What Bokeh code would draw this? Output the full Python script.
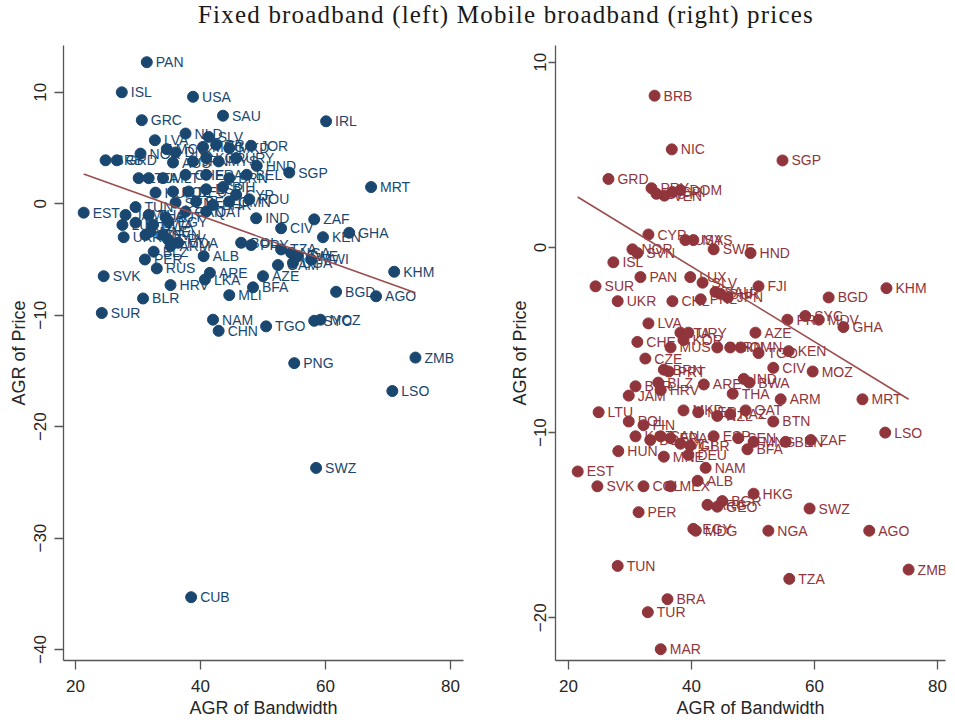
from bokeh.plotting import figure
from bokeh.layouts import column, row
from bokeh.models import Div, Range1d, FixedTicker, ColumnDataSource
from bokeh.core.properties import value
from bokeh.embed import file_html
from bokeh.resources import INLINE

TITLE = "Fixed broadband (left) Mobile broadband (right) prices"
X_LABEL = "AGR of Bandwidth"
Y_LABEL = "AGR of Price"
x_ticks = [20, 40, 60, 80]
fixed_y_ticks = [10, 0, -10, -20, -30, -40]
mobile_y_ticks = [10, 0, -10, -20]

# ---------- Fixed broadband (left) ----------
fixed_code = ["PAN", "ISL", "USA", "SAU", "IRL", "GRC", "LVA", "NLD", "SLV", "JOR",
              "HND", "SGP", "MRT", "BRB", "GRD", "BEL", "IND", "ZAF", "CIV", "GHA",
              "KEN", "KHM", "BGD", "AGO", "SYC", "MOZ", "TGO", "NAM", "CHN", "MLI",
              "BFA", "AZE", "ARE", "LKA", "HRV", "ALB", "RUS", "PER", "SVK", "BLR",
              "SUR", "EST", "PNG", "ZMB", "LSO", "SWZ", "CUB",
              "NOR", "MCO", "DNK", "MNG", "BRA", "MKD", "AUS", "JPN", "KOR", "MYS",
              "URY", "LTU", "ITA", "MLT", "CHE", "FRA", "BRN", "HUN", "POL", "DEU",
              "ESP", "BIH", "CYP", "ROU", "SEN", "BEN", "BHR", "OMN", "TUN", "JAM",
              "THA", "AUT", "CAN", "QAT", "LUX", "PHL", "BWA", "EGY", "UKR", "CZE",
              "SVN", "MNE", "CPV", "MDA", "ARM", "BLZ", "BOL", "PRY", "TZA", "NGA",
              "ZWE", "GAM", "UGA", "MWI"]
fixed_bw = [31.4, 27.4, 38.8, 43.6, 60.1, 30.6, 32.7, 37.6, 41.3, 48.1,
            49.0, 54.2, 67.3, 24.8, 26.6, 47.4, 48.9, 58.2, 52.9, 63.8,
            59.6, 71.0, 61.7, 68.1, 58.2, 59.2, 50.5, 42.0, 42.9, 44.6,
            48.4, 50.0, 41.5, 40.7, 35.2, 40.5, 33.0, 31.1, 24.5, 30.8,
            24.2, 21.3, 55.0, 74.4, 70.7, 58.5, 38.5,
            30.4, 34.6, 36.0, 40.4, 42.5, 44.6, 35.6, 38.8, 40.9, 42.9,
            45.7, 30.1, 31.7, 34.0, 37.6, 40.9, 44.6, 32.8, 35.6, 38.1,
            40.9, 43.6, 45.7, 47.8, 36.0, 39.3, 42.0, 44.6, 29.6, 28.0,
            31.7, 34.4, 37.6, 40.9, 27.5, 29.6, 32.4, 34.9, 27.7, 31.2,
            34.0, 32.0, 34.8, 36.4, 35.2, 32.5, 46.5, 48.1, 52.9, 54.5,
            55.6, 52.4, 54.8, 57.7]
fixed_price = [12.7, 10.0, 9.6, 7.9, 7.4, 7.5, 5.7, 6.3, 6.0, 5.2,
               3.4, 2.8, 1.5, 3.9, 3.9, 2.6, -1.3, -1.4, -2.2, -2.6,
               -3.0, -6.1, -7.9, -8.3, -10.5, -10.4, -11.0, -10.4, -11.4, -8.2,
               -7.5, -6.5, -6.2, -6.8, -7.3, -4.7, -5.8, -5.0, -6.5, -8.5,
               -9.8, -0.8, -14.3, -13.8, -16.8, -23.7, -35.3,
               4.5, 4.9, 4.6, 5.1, 5.3, 5.0, 3.7, 3.8, 4.1, 3.8,
               4.1, 2.3, 2.3, 2.3, 2.6, 2.6, 2.3, 1.0, 1.1, 1.1,
               1.3, 1.5, 0.8, 0.4, 0.1, 0.2, -0.1, 0.2, -0.3, -1.0,
               -1.0, -1.2, -0.7, -0.7, -1.9, -1.7, -1.9, -1.6, -3.0, -2.8,
               -2.8, -2.5, -3.2, -3.5, -3.8, -4.3, -3.5, -3.7, -4.1, -4.4,
               -4.7, -5.5, -5.3, -5.0]
fixed_fit_intercept = 6.96
fixed_fit_slope = -0.201

# ---------- Mobile broadband (right) ----------
mobile_code = ["BRB", "NIC", "SGP", "GRD", "PRY", "GUY", "VEN", "CRI", "DOM", "CYP",
               "USA", "MYS", "SWE", "HND", "NOR", "SVN", "ISL", "PAN", "SUR", "UKR",
               "CHL", "LUX", "SLV", "SAU", "BHR", "JPN", "PHL", "FJI", "PRI", "SYC",
               "MDV", "BGD", "KHM", "GHA", "LVA", "CHE", "ITA", "URY", "KOR", "AZE",
               "MUS", "BIH", "IRN", "OMN", "TGO", "KEN", "CZE", "BRN", "PRT", "CIV",
               "MOZ", "BLR", "BLZ", "JAM", "HRV", "ARE", "THA", "IND", "BWA", "ARM",
               "MRT", "LSO", "LTU", "MKD", "NER", "NZL", "KAZ", "QAT", "BTN", "POL",
               "FIN", "KGZ", "BOL", "CAN", "FRA", "MLT", "GBR", "ESP", "SEN", "MNG",
               "BFA", "BEN", "ZAF", "HUN", "MNE", "DEU", "NAM", "EST", "SVK", "COL",
               "MEX", "ALB", "HKG", "ARG", "BGR", "GEO", "SWZ", "PER", "EGY", "MDG",
               "NGA", "AGO", "TUN", "TZA", "ZMB", "BRA", "TUR", "MAR"]
mobile_bw = [34.0, 36.8, 54.8, 26.5, 33.5, 34.3, 35.6, 36.9, 38.2, 33.0,
             39.0, 40.3, 43.6, 49.6, 30.4, 31.2, 27.3, 31.7, 24.4, 28.0,
             36.9, 39.8, 41.8, 43.9, 44.7, 45.9, 41.5, 50.9, 55.6, 58.5,
             60.7, 62.3, 71.7, 64.7, 33.0, 31.2, 38.2, 39.5, 38.7, 50.4,
             36.6, 44.2, 46.3, 48.0, 50.9, 55.8, 32.5, 35.5, 36.3, 53.3,
             59.7, 30.9, 34.6, 29.8, 35.0, 42.0, 46.7, 48.5, 49.4, 54.5,
             67.8, 71.5, 24.9, 38.7, 41.1, 44.2, 46.3, 48.8, 53.3, 29.8,
             32.2, 30.9, 33.3, 35.0, 36.6, 38.2, 39.8, 43.6, 47.6, 50.1,
             49.1, 55.3, 59.4, 28.1, 35.5, 39.5, 42.3, 21.5, 24.7, 32.2,
             36.6, 41.0, 50.1, 42.6, 45.0, 44.2, 59.2, 31.4, 40.3, 40.7,
             52.5, 68.9, 28.0, 55.9, 75.3, 36.1, 32.9, 35.0]
mobile_price = [8.2, 5.3, 4.7, 3.7, 3.2, 2.9, 2.8, 3.0, 3.1, 0.7,
                0.4, 0.4, -0.1, -0.3, -0.1, -0.3, -0.8, -1.6, -2.1, -2.9,
                -2.9, -1.6, -1.9, -2.4, -2.5, -2.7, -2.8, -2.1, -3.9, -3.7,
                -3.9, -2.7, -2.2, -4.3, -4.1, -5.1, -4.6, -4.6, -5.0, -4.6,
                -5.4, -5.4, -5.4, -5.4, -5.7, -5.6, -6.0, -6.6, -6.7, -6.5,
                -6.7, -7.5, -7.3, -8.0, -7.7, -7.4, -7.9, -7.1, -7.3, -8.2,
                -8.2, -10.0, -8.9, -8.8, -8.9, -9.1, -9.0, -8.8, -9.4, -9.4,
                -9.6, -10.2, -10.4, -10.2, -10.3, -10.6, -10.7, -10.2, -10.3, -10.5,
                -10.9, -10.5, -10.4, -11.0, -11.3, -11.2, -11.9, -12.1, -12.9, -12.9,
                -12.9, -12.6, -13.3, -13.9, -13.7, -14.0, -14.1, -14.3, -15.2, -15.3,
                -15.3, -15.3, -17.2, -17.9, -17.4, -19.0, -19.7, -21.7]
mobile_fit_intercept = 7.09
mobile_fit_slope = -0.203

NAVY = "#1a476f"
MAROON = "#90353b"
FIT_COLOR = "#9b4d4d"
AXIS_COLOR = "#555555"
TEXT_COLOR = "#262626"
SANS = "Liberation Sans"


def make_panel(code, bw, price, intercept, slope, color, x_rng, y_rng, y_ticks,
               width, height, border_left, border_right, y_label_standoff, y_title_standoff):
    p = figure(width=width, height=height, x_range=Range1d(*x_rng), y_range=Range1d(*y_rng),
               output_backend="svg", toolbar_location=None,
               min_border_left=border_left, min_border_right=border_right,
               min_border_top=5, min_border_bottom=57)
    p.outline_line_color = None
    p.grid.visible = False
    p.background_fill_color = "white"
    p.border_fill_color = "white"

    for ax in (p.xaxis[0], p.yaxis[0]):
        ax.axis_line_color = AXIS_COLOR
        ax.axis_line_width = 1.3
        ax.major_tick_line_color = AXIS_COLOR
        ax.major_tick_line_width = 1.3
        ax.major_tick_out = 9
        ax.major_tick_in = 0
        ax.minor_tick_line_color = None
        ax.major_label_text_font = SANS
        ax.major_label_text_font_size = "17px"
        ax.major_label_text_color = TEXT_COLOR
        ax.axis_label_text_font = SANS
        ax.axis_label_text_font_size = "18px"
        ax.axis_label_text_font_style = "normal"
        ax.axis_label_text_color = TEXT_COLOR

    p.xaxis.ticker = FixedTicker(ticks=x_ticks)
    p.yaxis.ticker = FixedTicker(ticks=y_ticks)
    p.xaxis.axis_label = X_LABEL
    p.yaxis.axis_label = Y_LABEL
    p.xaxis.major_label_standoff = 10
    p.xaxis.axis_label_standoff = 3
    p.yaxis.major_label_orientation = "vertical"
    p.yaxis.major_label_standoff = y_label_standoff
    p.yaxis.axis_label_standoff = y_title_standoff

    src = ColumnDataSource(dict(x=bw, y=price, code=code))
    p.text(x="x", y="y", text="code", source=src, x_offset=9, text_baseline="middle",
           text_align="left", text_font=value(SANS), text_font_size=value("14px"),
           text_color=color)
    p.scatter(x="x", y="y", source=src, size=11, marker="circle",
              fill_color=color, line_color=color)

    x0, x1 = min(bw), max(bw)
    p.line([x0, x1], [intercept + slope * x0, intercept + slope * x1],
           line_color=FIT_COLOR, line_width=1.6)
    return p


p1 = make_panel(fixed_code, fixed_bw, fixed_price, fixed_fit_intercept, fixed_fit_slope,
                NAVY, (18.07, 82.09), (-40.98, 14.2), fixed_y_ticks, 500, 680, 63, 37, 8, 3)
p2 = make_panel(mobile_code, mobile_bw, mobile_price, mobile_fit_intercept, mobile_fit_slope,
                MAROON, (17.89, 81.3), (-22.31, 10.91), mobile_y_ticks, 447, 680, 55, 2, 2, 2)
p2.yaxis.major_tick_out = 7

title = Div(text=TITLE, width=880, height=40, margin=(0, 0, 0, 66),
            styles={"font-family": "Liberation Serif", "font-size": "25px",
                    "letter-spacing": "1.2px", "text-align": "center",
                    "color": "#1a1a1a", "line-height": "30px"})

layout = column(title, row(p1, p2))

with open("out.html", "w") as f:
    f.write(file_html(layout, INLINE))
